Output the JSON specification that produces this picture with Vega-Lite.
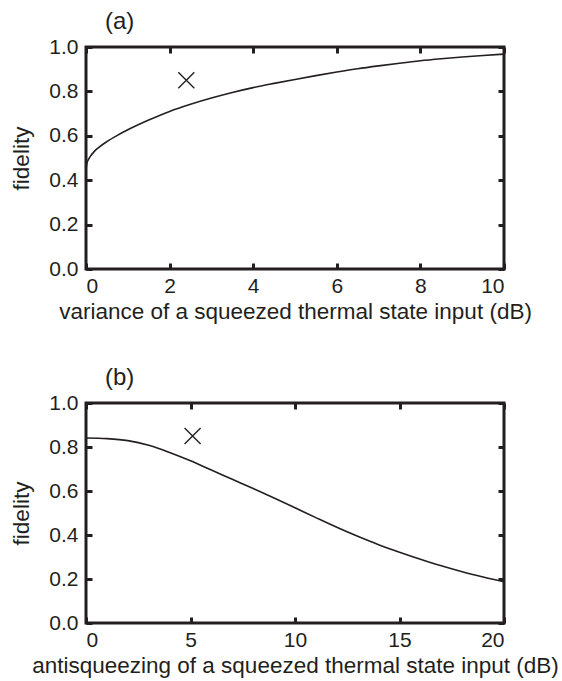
{
  "$schema": "https://vega.github.io/schema/vega-lite/v6.json",
  "padding": {"left": 9, "top": 8, "right": 5, "bottom": 2},
  "background": "white",
  "config": {
    "font": "Liberation Sans",
    "view": {"stroke": "#231f20", "strokeWidth": 3},
    "axis": {
      "domain": false,
      "grid": false,
      "tickColor": "#231f20",
      "tickSize": -6,
      "tickWidth": 3,
      "labelFont": "Liberation Sans",
      "labelFontSize": 21,
      "labelColor": "#231f20",
      "titleFont": "Liberation Sans",
      "titleFontSize": 22.5,
      "titleFontWeight": "normal",
      "titleColor": "#231f20"
    },
    "axisX": {"labelPadding": 12, "titlePadding": 4},
    "axisY": {"labelPadding": 14, "titlePadding": 15},
    "title": {"font": "Liberation Sans", "fontSize": 24, "fontWeight": "normal", "anchor": "start", "frame": "group", "color": "#231f20"}
  },
  "datasets": {
    "a": [
      {"x": 0, "y": 0.45}, {"x": 0.02, "y": 0.475}, {"x": 0.05, "y": 0.49}, {"x": 0.1, "y": 0.506},
      {"x": 0.2, "y": 0.53}, {"x": 0.3, "y": 0.547}, {"x": 0.5, "y": 0.574}, {"x": 0.75, "y": 0.602},
      {"x": 1, "y": 0.627}, {"x": 1.5, "y": 0.671}, {"x": 2, "y": 0.71}, {"x": 2.5, "y": 0.742},
      {"x": 3, "y": 0.77}, {"x": 3.5, "y": 0.795}, {"x": 4, "y": 0.817}, {"x": 4.5, "y": 0.836},
      {"x": 5, "y": 0.854}, {"x": 5.5, "y": 0.871}, {"x": 6, "y": 0.887}, {"x": 6.5, "y": 0.902},
      {"x": 7, "y": 0.915}, {"x": 7.5, "y": 0.927}, {"x": 8, "y": 0.938}, {"x": 8.5, "y": 0.947},
      {"x": 9, "y": 0.955}, {"x": 9.5, "y": 0.962}, {"x": 10, "y": 0.968}
    ],
    "b": [
      {"x": 0, "y": 0.841}, {"x": 1, "y": 0.838}, {"x": 2, "y": 0.829}, {"x": 3, "y": 0.808},
      {"x": 4, "y": 0.775}, {"x": 5, "y": 0.737}, {"x": 6, "y": 0.695}, {"x": 7, "y": 0.653},
      {"x": 8, "y": 0.611}, {"x": 9, "y": 0.568}, {"x": 10, "y": 0.524}, {"x": 11, "y": 0.479},
      {"x": 12, "y": 0.435}, {"x": 13, "y": 0.394}, {"x": 14, "y": 0.356}, {"x": 15, "y": 0.322},
      {"x": 16, "y": 0.29}, {"x": 17, "y": 0.26}, {"x": 18, "y": 0.233}, {"x": 19, "y": 0.209},
      {"x": 20, "y": 0.187}
    ],
    "pa": [{"x": 2.4, "y": 0.85}],
    "pb": [{"x": 5.1, "y": 0.85}]
  },
  "spacing": 40,
  "vconcat": [
    {
      "width": 418,
      "height": 222,
      "title": {"text": "(a)", "dx": 19, "offset": 2},
      "resolve": {"axis": {"x": "independent", "y": "independent"}},
      "layer": [
        {
          "data": {"name": "a"},
          "mark": {"type": "line", "interpolate": "monotone", "color": "#231f20", "strokeWidth": 1.6},
          "encoding": {
            "x": {"field": "x", "type": "quantitative", "scale": {"domain": [0, 10], "nice": false},
                  "axis": {"title": "variance of a squeezed thermal state input (dB)", "values": [0, 2, 4, 6, 8, 10]}},
            "y": {"field": "y", "type": "quantitative", "scale": {"domain": [0, 1], "nice": false},
                  "axis": {"title": "fidelity", "values": [0, 0.2, 0.4, 0.6, 0.8, 1.0], "format": ".1f"}}
          }
        },
        {
          "data": {"name": "pa"},
          "mark": {"type": "point", "shape": "M-1,-1L1,1M1,-1L-1,1", "size": 256, "filled": false, "stroke": "#231f20", "strokeWidth": 1.4, "opacity": 1},
          "encoding": {
            "x": {"field": "x", "type": "quantitative", "axis": {"orient": "top", "labels": false, "title": null, "values": [0, 2, 4, 6, 8, 10]}},
            "y": {"field": "y", "type": "quantitative", "axis": {"orient": "right", "labels": false, "title": null, "values": [0, 0.2, 0.4, 0.6, 0.8, 1.0]}}
          }
        }
      ]
    },
    {
      "width": 418,
      "height": 220,
      "title": {"text": "(b)", "dx": 19, "offset": 2},
      "resolve": {"axis": {"x": "independent", "y": "independent"}},
      "layer": [
        {
          "data": {"name": "b"},
          "mark": {"type": "line", "interpolate": "monotone", "color": "#231f20", "strokeWidth": 1.6},
          "encoding": {
            "x": {"field": "x", "type": "quantitative", "scale": {"domain": [0, 20], "nice": false},
                  "axis": {"title": "antisqueezing of a squeezed thermal state input (dB)", "values": [0, 5, 10, 15, 20]}},
            "y": {"field": "y", "type": "quantitative", "scale": {"domain": [0, 1], "nice": false},
                  "axis": {"title": "fidelity", "values": [0, 0.2, 0.4, 0.6, 0.8, 1.0], "format": ".1f"}}
          }
        },
        {
          "data": {"name": "pb"},
          "mark": {"type": "point", "shape": "M-1,-1L1,1M1,-1L-1,1", "size": 256, "filled": false, "stroke": "#231f20", "strokeWidth": 1.4, "opacity": 1},
          "encoding": {
            "x": {"field": "x", "type": "quantitative", "axis": {"orient": "top", "labels": false, "title": null, "values": [0, 5, 10, 15, 20]}},
            "y": {"field": "y", "type": "quantitative", "axis": {"orient": "right", "labels": false, "title": null, "values": [0, 0.2, 0.4, 0.6, 0.8, 1.0]}}
          }
        }
      ]
    }
  ]
}
